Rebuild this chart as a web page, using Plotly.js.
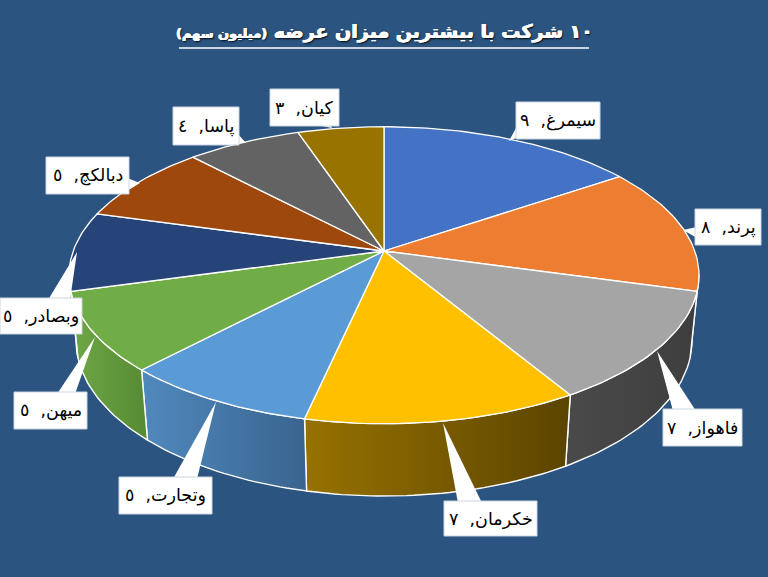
<!DOCTYPE html>
<html><head><meta charset="utf-8">
<script src="https://cdn.plot.ly/plotly-3.0.1.min.js"></script>
<style>html,body{margin:0;padding:0;background:#2b5480}#c{width:768px;height:577px}</style>
</head><body><div id="c"></div>
<script>
// data
const companies = ["سیمرغ","پرند","فاهواز","خکرمان","وتجارت","میهن","وبصادر","دبالکچ","پاسا","کیان"];
const values = [9,8,7,7,5,5,5,5,4,3];
const valueLabels = ["٩","٨","٧","٧","٥","٥","٥","٥","٤","٣"];
const titleMain = "١٠ شرکت با بیشترین میزان عرضه ";
const titleSub = "(میلیون سهم)";
// styles
const topColors = ["#4472C4","#ED7D31","#A5A5A5","#FFC000","#5B9BD5","#70AD47","#264478","#9E480E","#636363","#997300"];
const wallLeft  = ["#3a5f9e","#b85f24","#4a4a4a","#977200","#5089bd","#6fa845","#1d3560","#7a380b","#4d4d4d","#775900"];
const wallRight = ["#2e4c80","#9a4f1e","#3e3e3e","#5b4400","#39648f","#568a35","#1d3560","#7a380b","#4d4d4d","#775900"];
// callouts: [box x0,y0,x1,y1] and tail triangle in page pixels
const boxes = [[516,102,600,139],[695,209,761,245],[663,409,742,446],[444,501,537,536],[119,477,212,514],[14,392,87,429],[0,298,82,334],[46,157,129,194],[173,107,239,145],[270,89,339,126]];
const tails = [[[516,128],[509,141],[516,138]],[[697,227],[683,230],[697,238]],[[673,411],[657,351],[696,411]],[[458,503],[443,423],[482,503]],[[173,479],[216,402],[197,479]],[[57,394],[95,337],[75,394]],[[48,300],[77,252],[70,300]],[[127,178],[140,183],[127,191]],[[228,143],[246,143],[237,133]],[[312,124],[332,128],[330,124]]];

// projection of the tilted disc onto the page
const cx=384, cy=251, A=310.8, B=144.5, p=0.163, drop=66, dw=0.022;
const total = values.reduce((a,b)=>a+b,0);
function proj(t, low){
  const X=Math.sin(t), Z=Math.cos(t), w=1+p*Z+(low?dw:0);
  return [cx+A*X/w, cy+(-B*Z+(low?drop:0))/w];
}
function arc(a,b,low){
  const n=Math.max(2,Math.ceil((b-a)/0.02)), pts=[];
  for(let i=0;i<=n;i++) pts.push(proj(a+(b-a)*i/n,low));
  return pts;
}
const rad=Math.PI/180, wallMin=99*rad, wallMax=261*rad;
const walls=[], tops=[];
let acc=0;
values.forEach((v,i)=>{
  const a=acc/total*2*Math.PI, b=(acc+v)/total*2*Math.PI; acc+=v;
  const w0=Math.max(a,wallMin), w1=Math.min(b,wallMax);
  if(w1>w0){
    const poly=arc(w0,w1,false).concat(arc(w0,w1,true).reverse());
    poly.push(poly[0]);
    walls.push({type:'scatter',mode:'lines',x:poly.map(q=>q[0]),y:poly.map(q=>q[1]),fill:'toself',
      fillgradient:{type:'horizontal',colorscale:[[0,wallLeft[i]],[1,wallRight[i]]]},
      line:{color:'#ffffff',width:1.4},hoverinfo:'skip',showlegend:false,name:companies[i]});
  }
  const poly=[[cx,cy]].concat(arc(a,b,false)); poly.push([cx,cy]);
  tops.push({type:'scatter',mode:'lines',x:poly.map(q=>q[0]),y:poly.map(q=>q[1]),fill:'toself',
    fillcolor:topColors[i],line:{color:'#ffffff',width:1.3},hoverinfo:'text',text:companies[i]+', '+v,showlegend:false,name:companies[i]});
});
const shapes=[{type:'line',xref:'x',yref:'y',x0:179,x1:589,y0:48,y1:48,line:{color:'#fff',width:1.5},layer:'above'}];
tails.forEach(t=>shapes.push({type:'path',xref:'x',yref:'y',layer:'above',fillcolor:'#fff',line:{width:0},
  path:'M'+t.map(q=>q.join(' ')).join(' L')+' Z'}));
boxes.forEach(b=>shapes.push({type:'rect',xref:'x',yref:'y',layer:'above',x0:b[0],y0:b[1],x1:b[2],y1:b[3],fillcolor:'#fff',line:{color:'#c9d6e2',width:1}}));
const annotations=companies.map((c,i)=>({xref:'x',yref:'y',x:(boxes[i][0]+boxes[i][2])/2,y:(boxes[i][1]+boxes[i][3])/2,
  text:c+',  '+valueLabels[i],showarrow:false,font:{family:'DejaVu Sans',size:17.5,color:'#000'},xanchor:'center',yanchor:'middle'}));
Plotly.newPlot('c',walls.concat(tops),{
  width:768,height:577,margin:{l:0,r:0,t:0,b:0},paper_bgcolor:'#2b5480',plot_bgcolor:'#2b5480',showlegend:false,
  title:{text:'<b>'+titleMain+'<span style="font-size:13px">'+titleSub+'</span></b>',x:0.5005,xanchor:'center',y:0.945,yanchor:'middle',
    font:{family:'DejaVu Sans',size:19,color:'#fff',shadow:'0.5px 0 0 #fff, -0.5px 0 0 #fff, 1px 1px 2px #000'}},
  xaxis:{range:[0,768],visible:false,fixedrange:true},
  yaxis:{range:[577,0],visible:false,fixedrange:true},
  shapes:shapes,annotations:annotations
},{displayModeBar:false,staticPlot:true});
</script></body></html>
